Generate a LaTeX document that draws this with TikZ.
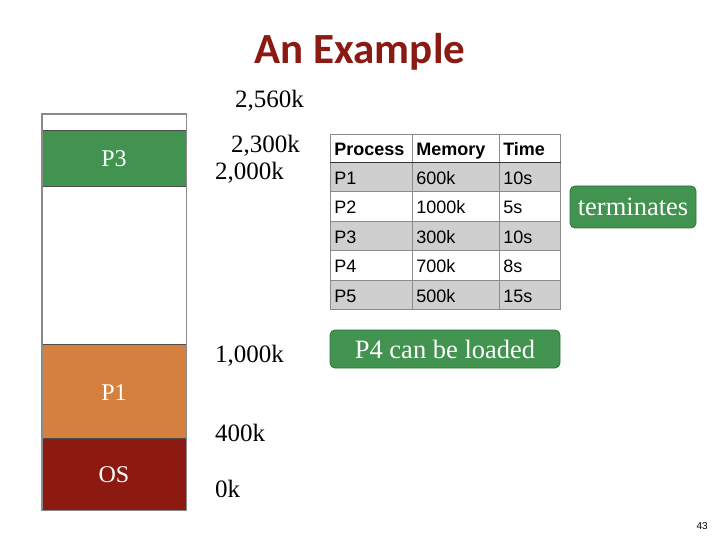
\documentclass[tikz,border=0pt]{standalone}
\usepackage{fontspec}
\setmainfont{Liberation Serif}
\newfontfamily\titlefont{Carlito}
\newfontfamily\tablefont{Liberation Sans}
\definecolor{procgreen}{HTML}{41934F}
\definecolor{procgreenedge}{HTML}{2F6E3A}
\definecolor{procorange}{HTML}{D6803F}
\definecolor{osred}{HTML}{8C1A11}
\definecolor{titlered}{HTML}{8B1A12}
\definecolor{rowgray}{HTML}{CFCFCF}
\definecolor{gridgray}{HTML}{8A8A8A}
\tikzset{
  memblock/.style={draw=black!70, line width=0.8pt, minimum width=144pt,
    anchor=north west, inner sep=0pt},
  blocklabel/.style={anchor=base, text=white, inner sep=0pt, font=\fontsize{24}{24}\selectfont},
  addr/.style={anchor=base west, inner sep=0pt, font=\fontsize{25}{25}\selectfont},
  cell/.style={draw=gridgray, line width=0.6pt, anchor=north west, inner xsep=4pt,
    inner ysep=0pt, text height=16pt, text depth=1pt, align=left,
    font=\tablefont\fontsize{18}{18}\selectfont},
  headcell/.style={cell, font=\tablefont\bfseries\fontsize{18}{18}\selectfont},
  note/.style={draw=procgreenedge, fill=procgreen, rounded corners=5pt, line width=0.8pt,
    text=white, inner sep=0pt, font=\fontsize{26.5}{26.5}\selectfont},
}
\begin{document}
\begin{tikzpicture}[x=1pt,y=-1pt]
\useasboundingbox (0,0) rectangle (720,540);

% title
\node[anchor=base, text=titlered, font=\titlefont\bfseries\fontsize{43}{43}\selectfont, inner sep=0pt]
  (title) at (360,64) {An Example};

% memory bar, top to bottom
\node[memblock, minimum height=16pt] (free2) at (42,114) {};
\node[memblock, fill=procgreen, minimum height=56pt] (p3) at (42,130) {};
\node[memblock, minimum height=158pt] (free1) at (42,186) {};
\node[memblock, fill=procorange, minimum height=94pt] (p1) at (42,344) {};
\node[memblock, fill=osred, minimum height=72pt] (os) at (42,438) {};
\node[blocklabel] (p3t) at (114,167) {P3};
\node[blocklabel] (p1t) at (114,400) {P1};
\node[blocklabel] (ost) at (114,482) {OS};
\draw[gridgray, line width=1.2pt] (free2.north west) rectangle (os.south east);

% address labels
\node[addr] (a2560) at (235,108) {2,560k};
\node[addr] (a2300) at (231,153) {2,300k};
\node[addr] (a2000) at (215,180) {2,000k};
\node[addr] (a1000) at (215,362) {1,000k};
\node[addr] (a400) at (215,441) {400k};
\node[addr] (a0) at (215,497) {0k};

% process table
\def\colA{330}\def\colB{412}\def\colC{499}
\node[headcell, text width=74pt, minimum height=28pt] (h1) at (\colA,134) {Process};
\node[headcell, text width=79pt, minimum height=28pt] (h2) at (\colB,134) {Memory};
\node[headcell, text width=53pt, minimum height=28pt] (h3) at (\colC,134) {Time};
\foreach \r/\p/\m/\t/\f in {1/P1/600k/10s/rowgray, 2/P2/1000k/5s/white, 3/P3/300k/10s/rowgray,
                            4/P4/700k/8s/white, 5/P5/500k/15s/rowgray}{
  \pgfmathsetmacro{\ytop}{162+(\r-1)*29.4}
  \node[cell, fill=\f, text width=74pt, minimum height=29.4pt] (r\r c1) at (\colA,\ytop) {\p};
  \node[cell, fill=\f, text width=79pt, minimum height=29.4pt] (r\r c2) at (\colB,\ytop) {\m};
  \node[cell, fill=\f, text width=53pt, minimum height=29.4pt] (r\r c3) at (\colC,\ytop) {\t};
}
\draw[black!80, line width=1.6pt] (h1.south west) -- (h3.south east);

% notes
\node[note, minimum width=126pt, minimum height=42pt] (term) at (633,207) {terminates};
\node[note, minimum width=230pt, minimum height=38pt] (load) at (445,349) {P4 can be loaded};

% slide number
\node[anchor=base east, inner sep=0pt, font=\tablefont\fontsize{10}{10}\selectfont] (pg) at (708,529) {43};
\end{tikzpicture}
\end{document}
